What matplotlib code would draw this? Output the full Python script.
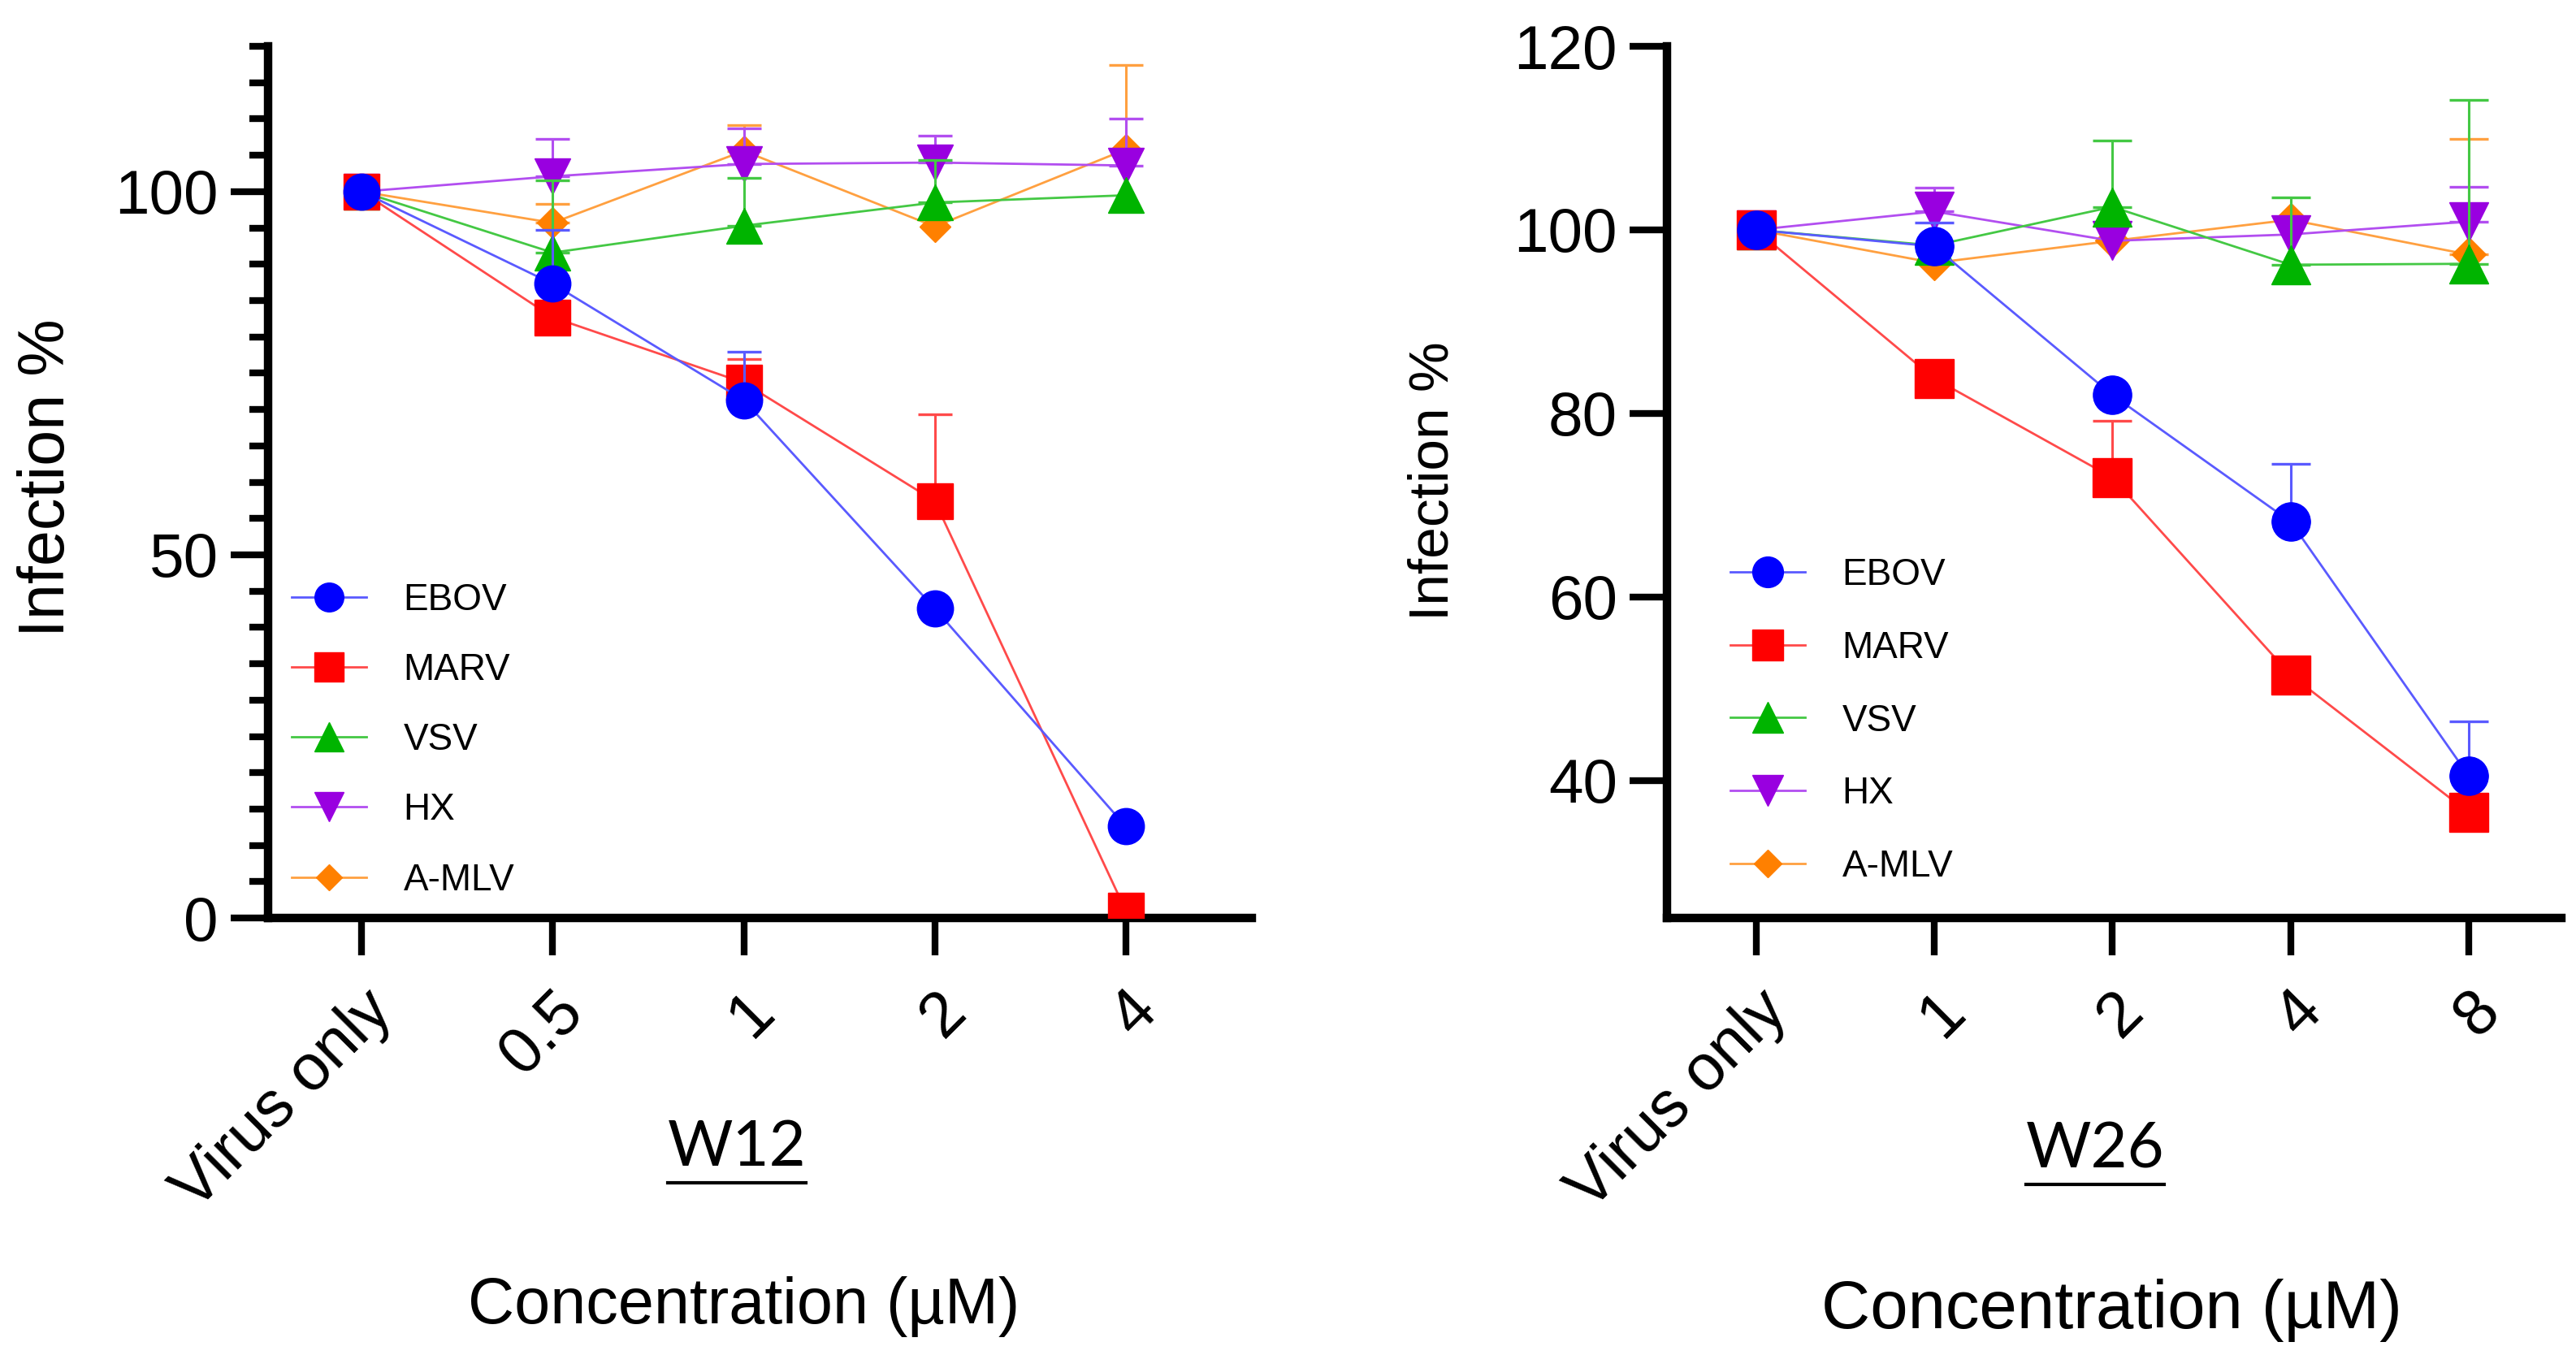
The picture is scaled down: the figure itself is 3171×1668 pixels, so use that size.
import numpy as np
import matplotlib
matplotlib.use("Agg")
import matplotlib.pyplot as plt
from matplotlib.lines import Line2D

plt.rcParams['font.family'] = ['Liberation Sans', 'DejaVu Sans']

# W12 panel
w12_labels = ["Virus only", "0.5", "1", "2", "4"]
ebov_w12 = [100, 87.3, 71.3, 42.6, 12.6]
marv_w12 = [100, 82.7, 73.7, 57.4, 1.0]
vsv_w12 = [100, 91.6, 95.3, 98.5, 99.5]
hx_w12 = [100, 102.1, 103.8, 104.0, 103.6]
amlv_w12 = [100, 95.7, 105.6, 95.2, 105.8]
# upper error bars (only the upper half is shown)
ebov_w12_err = [0, 7.4, 6.7, 0, 0]
marv_w12_err = [0, 0, 3.2, 12.0, 0]
vsv_w12_err = [0, 9.9, 6.6, 5.8, 0]
hx_w12_err = [0, 5.2, 4.9, 3.7, 6.5]
amlv_w12_err = [0, 2.6, 3.6, 0, 11.6]

# W26 panel
w26_labels = ["Virus only", "1", "2", "4", "8"]
ebov_w26 = [100, 98.2, 82.0, 68.2, 40.5]
marv_w26 = [100, 83.8, 73.0, 51.5, 36.5]
vsv_w26 = [100, 98.3, 102.5, 96.2, 96.3]
hx_w26 = [100, 102.0, 98.8, 99.5, 100.9]
amlv_w26 = [100, 96.4, 98.8, 101.1, 97.3]
ebov_w26_err = [0, 2.6, 0, 6.3, 5.9]
marv_w26_err = [0, 0, 6.2, 0, 0]
vsv_w26_err = [0, 0, 7.2, 7.3, 17.9]
hx_w26_err = [0, 2.6, 0, 0, 3.8]
amlv_w26_err = [0, 0, 0, 0, 12.6]

names = ["EBOV", "MARV", "VSV", "HX", "A-MLV"]
markers = ["o", "s", "^", "v", "D"]
marker_colors = ["#0000ff", "#ff0000", "#00b400", "#9900e0", "#ff8000"]
line_colors = ["#5a5aff", "#ff4a4a", "#44c844", "#b24ef0", "#ffa040"]
zorders = [10, 9, 8, 7, 6]


def draw_panel(ax, labels, series, errs, ms, capsize, xlim, ylim):
    x = np.arange(len(labels))
    # A-MLV first so EBOV ends up on top
    for i in reversed(range(len(series))):
        y = np.array(series[i], dtype=float)
        e = np.array(errs[i], dtype=float)
        m = e > 0
        if m.any():
            ax.errorbar(x[m], y[m], yerr=[np.zeros(m.sum()), e[m]], fmt="none",
                        ecolor=line_colors[i], elinewidth=2.2, capsize=capsize,
                        capthick=2.4, zorder=zorders[i] - 0.5)
        size = ms * (0.62 if markers[i] == "D" else 1.0)
        ax.plot(x, y, color=line_colors[i], lw=2.0, marker=markers[i], ms=size,
                mfc=marker_colors[i], mec=marker_colors[i], label=names[i],
                zorder=zorders[i])
    ax.set_xlim(*xlim)
    ax.set_ylim(*ylim)
    ax.set_xticks(x)
    ax.set_xticklabels(labels, rotation=45, ha="right", va="top",
                       rotation_mode="anchor", fontsize=57)
    for s in ["top", "right"]:
        ax.spines[s].set_visible(False)
    for s in ["left", "bottom"]:
        ax.spines[s].set_linewidth(7.5)
    ax.tick_params(axis="x", length=33, width=6, pad=22)
    ax.tick_params(axis="y", length=33, width=6, pad=11, labelsize=55)


fig = plt.figure(figsize=(31.71, 16.68), dpi=100)

ax1 = fig.add_axes([0.10407, 0.3225, 0.38190, 0.6433])
draw_panel(ax1, w12_labels,
           [ebov_w12, marv_w12, vsv_w12, hx_w12, amlv_w12],
           [ebov_w12_err, marv_w12_err, vsv_w12_err, hx_w12_err, amlv_w12_err],
           32, 15, (-0.49, 4.66), (0, 120))
ax1.set_yticks([0, 50, 100])
ax1.set_yticks(np.arange(0, 121, 5), minor=True)
ax1.tick_params(axis="y", which="minor", length=16.5, width=6)

ax2 = fig.add_axes([0.64711, 0.3225, 0.34721, 0.6433])
draw_panel(ax2, w26_labels,
           [ebov_w26, marv_w26, vsv_w26, hx_w26, amlv_w26],
           [ebov_w26_err, marv_w26_err, vsv_w26_err, hx_w26_err, amlv_w26_err],
           34, 17, (-0.50, 4.52), (25, 120))
ax2.set_yticks([40, 60, 80, 100, 120])

# legends, in the order of the reference
for ax, anchor, spacing in [(ax1, (0.024, 0.385), 0.92),
                            (ax2, (0.071, 0.414), 1.0)]:
    h, l = ax.get_legend_handles_labels()
    order = [l.index(n) for n in names]
    ax.legend([h[k] for k in order], [l[k] for k in order], loc="upper left",
              bbox_to_anchor=anchor, frameon=False, fontsize=33,
              handlelength=2.0, handletextpad=1.0, labelspacing=spacing,
              borderpad=0, borderaxespad=0, markerscale=0.8)

# axis titles
fig.text(0.0186, 0.6475, "Infection %", rotation=90, ha="center", va="center",
         fontsize=57)
fig.text(0.5566, 0.645, "Infection %", rotation=90, ha="center", va="center",
         fontsize=50)
fig.text(0.2886, 0.0354, "Concentration (µM)", ha="center", va="center",
         fontsize=57)
fig.text(0.8199, 0.033, "Concentration (µM)", ha="center", va="center",
         fontsize=60)

# underlined group names
tags = [fig.text(0.2860, 0.1523, "W12", ha="center", va="center", fontsize=56,
                 family=["Lato", "DejaVu Sans"]),
        fig.text(0.8133, 0.1510, "W26", ha="center", va="center", fontsize=56,
                 family=["Lato", "DejaVu Sans"])]
renderer = fig.canvas.get_renderer()
for t in tags:
    bb = t.get_window_extent(renderer).transformed(fig.transFigure.inverted())
    fig.add_artist(Line2D([bb.x0, bb.x1], [bb.y0 - 0.004, bb.y0 - 0.004],
                          transform=fig.transFigure, color="black", lw=3))

fig.savefig("out.png", dpi=100)
